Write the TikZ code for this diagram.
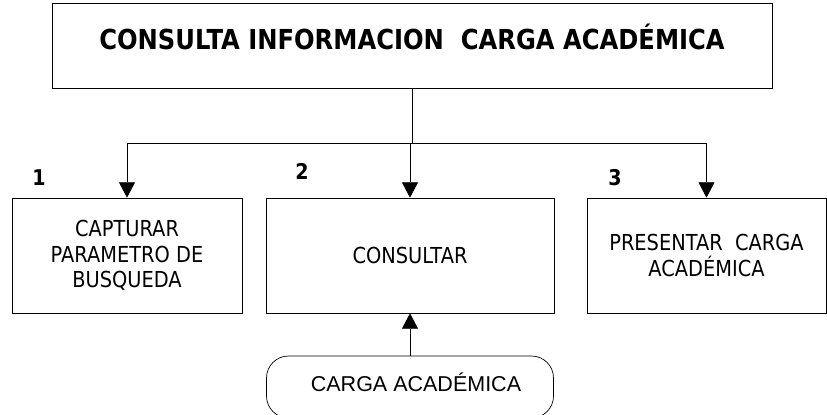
\documentclass[tikz,border=0pt]{standalone}
\usepackage{fontspec}
\newfontfamily\tahoma[FakeStretch=0.88]{DejaVu Sans}
\newfontfamily\arialf{Liberation Sans}
\usetikzlibrary{arrows.meta,positioning}

\begin{document}
\begin{tikzpicture}[x=0.03cm, y=-0.03cm,
  tbox/.style={draw, line width=0.6pt, minimum width=21.6cm,
               minimum height=2.55cm, inner sep=0pt,
               font=\tahoma\bfseries\fontsize{23.5pt}{26pt}\selectfont},
  pbox/.style={draw, line width=0.6pt, minimum width=#1,
               minimum height=3.45cm, align=center, inner sep=0pt,
               font=\tahoma\fontsize{18.8pt}{21.8pt}\selectfont},
  store/.style={draw, line width=0.6pt, rounded corners=0.66cm,
                minimum width=8.61cm, minimum height=1.86cm, inner sep=0pt,
                text height=0.72em, text depth=0pt,
                font=\arialf\fontsize{18.35pt}{21pt}\selectfont},
  num/.style={font=\tahoma\bfseries\fontsize{18.5pt}{20pt}\selectfont,
              inner sep=0pt},
  arr/.style={-{Triangle[length=0.46cm, width=0.48cm]}, line width=0.6pt},
  lnk/.style={line width=0.6pt},
]

%% ---- Column centres
\def\ca{127}   % capturar
\def\cb{410}   % consultar
\def\cc{706.5} % presentar

%% ---- Row heights (top to bottom)
\def\rA{45.5}  % title
\def\rB{143}   % branch line
\def\rC{255.5} % process boxes
\def\rD{387}   % data store

\useasboundingbox (0,0) rectangle (827,415);

%% ---- Title
\node[tbox, text height=0.8em, text depth=0.05em] (title) at (412,\rA)
  {CONSULTA INFORMACION\ \ CARGA ACADÉMICA};

%% ---- Process boxes
\node[pbox=6.9cm]  (capt) at (\ca,\rC) {CAPTURAR\\PARAMETRO DE\\BUSQUEDA};
\node[pbox=8.64cm] (cons) at (\cb,\rC) {CONSULTAR};
\node[pbox=7.17cm] (pres) at (\cc,\rC) {PRESENTAR\ \ CARGA\\ACADÉMICA};

%% ---- Step numbers
\node[num] (n1) at (39,178)  {1};
\node[num] (n2) at (302,171) {2};
\node[num] (n3) at (615,178) {3};

%% ---- Data store
\node[store] (carga) at (\cb,\rD) {\hspace*{0.36cm}CARGA ACADÉMICA};

%% ---- Connectors
\coordinate (split) at (412,\rB);
\coordinate (j1) at (\ca,\rB);
\coordinate (j2) at (\cb,\rB);
\coordinate (j3) at (\cc,\rB);

\draw[lnk] (title.south) -- (split);
\draw[lnk] (j1) -- (j3);
\draw[arr] (j1) -- (capt.north);
\draw[arr] (j2) -- (cons.north);
\draw[arr] (j3) -- (pres.north);
\draw[arr] (carga.north) -- (cons.south);

\end{tikzpicture}
\end{document}
